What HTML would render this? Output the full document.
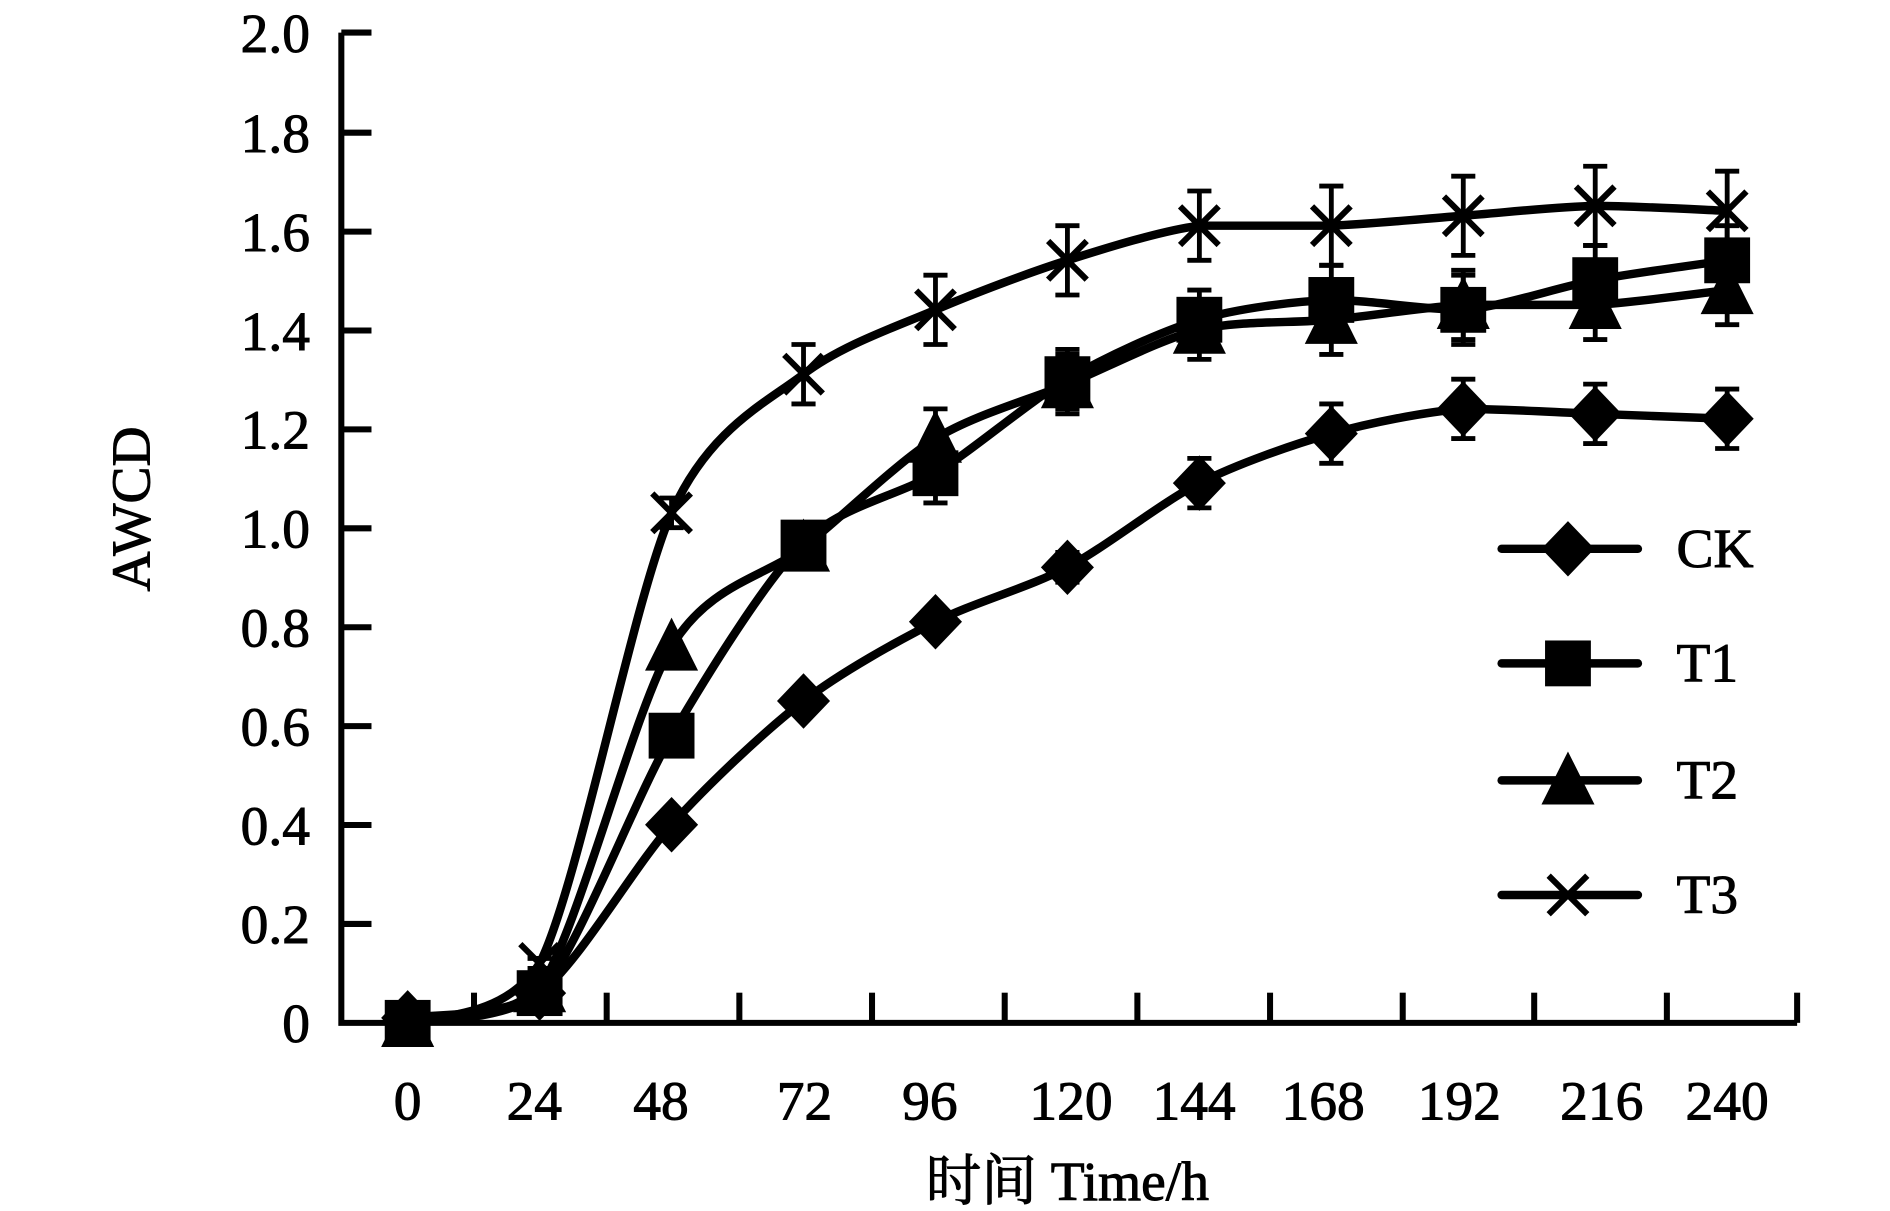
<!DOCTYPE html>
<html><head><meta charset="utf-8"><style>
html,body{margin:0;padding:0;background:#fff;overflow:hidden}
svg{display:block}
text{font-family:"Liberation Serif","Noto Serif CJK SC",serif;fill:#000}
</style></head><body>
<svg id="s" width="1890" height="1211" viewBox="0 0 1567 1004" preserveAspectRatio="none" xmlns="http://www.w3.org/2000/svg">
<g id="axes" stroke="#000" stroke-width="5" fill="none">
<path d="M283 27 V848 H1490"/>
</g>
<g id="g"></g>
<g font-size="46" stroke="#000" stroke-width="0.8">
<text x="257" y="43" text-anchor="end">2.0</text>
<text x="257" y="126" text-anchor="end">1.8</text>
<text x="257" y="208" text-anchor="end">1.6</text>
<text x="257" y="290" text-anchor="end">1.4</text>
<text x="257" y="372" text-anchor="end">1.2</text>
<text x="257" y="454" text-anchor="end">1.0</text>
<text x="257" y="536" text-anchor="end">0.8</text>
<text x="257" y="618" text-anchor="end">0.6</text>
<text x="257" y="700" text-anchor="end">0.4</text>
<text x="257" y="782" text-anchor="end">0.2</text>
<text x="257" y="864" text-anchor="end">0</text>
<text x="338" y="928" text-anchor="middle">0</text>
<text x="443" y="928" text-anchor="middle">24</text>
<text x="548" y="928" text-anchor="middle">48</text>
<text x="667" y="928" text-anchor="middle">72</text>
<text x="771" y="928" text-anchor="middle">96</text>
<text x="888" y="928" text-anchor="middle">120</text>
<text x="990" y="928" text-anchor="middle">144</text>
<text x="1097" y="928" text-anchor="middle">168</text>
<text x="1210" y="928" text-anchor="middle">192</text>
<text x="1328" y="928" text-anchor="middle">216</text>
<text x="1432" y="928" text-anchor="middle">240</text>
<text x="885" y="995" text-anchor="middle">时间 Time/h</text>
<text transform="translate(124,422) rotate(-90)" text-anchor="middle">AWCD</text>
<text x="1390" y="470">CK</text>
<text x="1390" y="565">T1</text>
<text x="1390" y="662">T2</text>
<text x="1390" y="757">T3</text>
</g>
</svg>
<script>
var NS="http://www.w3.org/2000/svg",g=document.getElementById('g');
function el(t,a){var e=document.createElementNS(NS,t);for(var k in a)e.setAttribute(k,a[k]);g.appendChild(e);return e;}
var yt=[27,110,192,274,356,438,520,602,684,766];
yt.forEach(function(y){el('line',{x1:283,x2:308,y1:y,y2:y,stroke:'#000','stroke-width':5});});
var xt=[393,503,613,723,833,943,1053,1163,1272,1382,1490];
xt.forEach(function(x){el('line',{x1:x,x2:x,y1:848,y2:823,stroke:'#000','stroke-width':5});});
function X(i){return 338+i*109.4;}
function Y(v){return 848-v*410.5;}
var D={
CK:[0.01,0.06,0.40,0.65,0.81,0.92,1.09,1.19,1.24,1.23,1.22],
T1:[0.0,0.06,0.58,0.97,1.11,1.30,1.42,1.46,1.44,1.50,1.54],
T2:[0.0,0.07,0.76,0.96,1.18,1.29,1.40,1.42,1.45,1.45,1.48],
T3:[0.0,0.12,1.03,1.31,1.44,1.54,1.61,1.61,1.63,1.65,1.64]};
var E={CK:[0,0,0,0,0,0.03,0.05,0.06,0.06,0.06,0.06],T1:[0,0,0,0,0.06,0.06,0.06,0.07,0.07,0.07,0.07],
T2:[0,0,0,0,0.06,0.06,0.06,0.07,0.07,0.07,0.07],T3:[0,0.01,0.03,0.06,0.07,0.07,0.07,0.08,0.08,0.08,0.08]};
function cl(v,a,b){var lo=Math.min(a,b),hi=Math.max(a,b);return Math.max(lo,Math.min(hi,v));}
function path(v){var p=v.map(function(y,i){return [X(i),Y(y)];});var d='M'+p[0][0]+' '+p[0][1];
for(var i=0;i<p.length-1;i++){var p0=p[Math.max(0,i-1)],p1=p[i],p2=p[i+1],p3=p[Math.min(p.length-1,i+2)];
var t=1/7;var c1y=cl(p1[1]+(p2[1]-p0[1])*t,p1[1],p2[1]),c2y=cl(p2[1]-(p3[1]-p1[1])*t,p1[1],p2[1]);
d+=' C'+(p1[0]+(p2[0]-p0[0])*t)+' '+c1y+' '+(p2[0]-(p3[0]-p1[0])*t)+' '+c2y+' '+p2[0]+' '+p2[1];}
return d;}
function marker(k,x,y){
 if(k=='CK')el('polygon',{points:(x)+','+(y-23)+' '+(x+22)+','+y+' '+x+','+(y+23)+' '+(x-22)+','+y,fill:'#000'});
 else if(k=='T1')el('rect',{x:x-19,y:y-19,width:38,height:38,fill:'#000'});
 else if(k=='T2')el('polygon',{points:x+','+(y-24)+' '+(x+22)+','+(y+20)+' '+(x-22)+','+(y+20),fill:'#000'});
 else{el('path',{d:'M'+(x-16)+' '+(y-16)+'L'+(x+16)+' '+(y+16)+'M'+(x+16)+' '+(y-16)+'L'+(x-16)+' '+(y+16),stroke:'#000','stroke-width':5,fill:'none'});}
}
['CK','T1','T2','T3'].forEach(function(k){
 el('path',{d:path(D[k]),stroke:'#000','stroke-width':7,fill:'none'});
 D[k].forEach(function(v,i){var e=E[k][i];if(e>0){var x=X(i),a=Y(v+e),b=Y(v-e);
  el('path',{d:'M'+x+' '+a+'V'+b+'M'+(x-10)+' '+a+'H'+(x+10)+'M'+(x-10)+' '+b+'H'+(x+10),stroke:'#000','stroke-width':4,fill:'none'});}
  marker(k,X(i),Y(v));});
});
var ly={CK:455,T1:550,T2:647,T3:742};
for(var k in ly){el('line',{x1:1245,x2:1358,y1:ly[k],y2:ly[k],stroke:'#000','stroke-width':7,'stroke-linecap':'round'});marker(k,1300,ly[k]);}
</script>
</body></html>
